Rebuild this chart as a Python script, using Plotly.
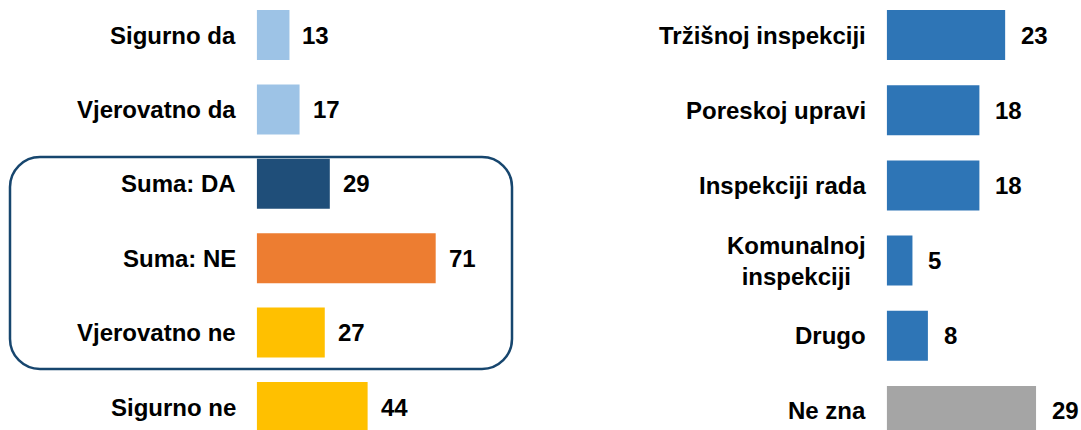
import plotly.graph_objects as go

# ---- data ----
left_categories = ["Sigurno da", "Vjerovatno da", "Suma: DA", "Suma: NE", "Vjerovatno ne", "Sigurno ne"]
left_values = [13, 17, 29, 71, 27, 44]
left_colors = ["#9DC3E6", "#9DC3E6", "#1F4E79", "#ED7D31", "#FFC000", "#FFC000"]

right_categories = ["Tržišnoj inspekciji", "Poreskoj upravi", "Inspekciji rada",
                    "Komunalnoj<br>inspekciji", "Drugo", "Ne zna"]
right_values = [23, 18, 18, 5, 8, 29]
right_colors = ["#2E75B6", "#2E75B6", "#2E75B6", "#2E75B6", "#2E75B6", "#A5A5A5"]

W, H = 1081, 430
FONT = "Liberation Sans, Arial, sans-serif"
FS = 24

fig = go.Figure()
fig.add_trace(go.Bar(y=left_categories, x=left_values, orientation="h",
                     marker=dict(color=left_colors, line=dict(width=0)),
                     width=0.672, xaxis="x", yaxis="y", hoverinfo="skip"))
fig.add_trace(go.Bar(y=right_categories, x=right_values, orientation="h",
                     marker=dict(color=right_colors, line=dict(width=0)),
                     width=0.665, xaxis="x2", yaxis="y2", hoverinfo="skip"))

annotations = []
for cat, val in zip(left_categories, left_values):
    annotations.append(dict(x=0, y=cat, xref="x", yref="y", text=cat, showarrow=False,
                            xanchor="right", yanchor="middle", xshift=-19, align="right",
                            font=dict(family=FONT, size=FS, color="#000000", weight="bold")))
    annotations.append(dict(x=val, y=cat, xref="x", yref="y", text=str(val), showarrow=False,
                            xanchor="left", yanchor="middle", xshift=11,
                            font=dict(family=FONT, size=FS, color="#000000", weight="bold")))
for cat, val in zip(right_categories, right_values):
    annotations.append(dict(x=0, y=cat, xref="x2", yref="y2", text=cat, showarrow=False,
                            xanchor="right", yanchor="middle", xshift=-19, align="center",
                            font=dict(family=FONT, size=FS, color="#000000", weight="bold")))
    annotations.append(dict(x=val, y=cat, xref="x2", yref="y2", text=str(val), showarrow=False,
                            xanchor="left", yanchor="middle", xshift=14,
                            font=dict(family=FONT, size=FS, color="#000000", weight="bold")))


def rr_path(x0, y0, x1, y1, r):
    k = 0.5523 * r

    def P(x, y):
        return f"{x / W:.5f},{1 - y / H:.5f}"

    return (f"M {P(x0 + r, y0)} L {P(x1 - r, y0)} "
            f"C {P(x1 - r + k, y0)} {P(x1, y0 + r - k)} {P(x1, y0 + r)} "
            f"L {P(x1, y1 - r)} "
            f"C {P(x1, y1 - r + k)} {P(x1 - r + k, y1)} {P(x1 - r, y1)} "
            f"L {P(x0 + r, y1)} "
            f"C {P(x0 + r - k, y1)} {P(x0, y1 - r + k)} {P(x0, y1 - r)} "
            f"L {P(x0, y0 + r)} "
            f"C {P(x0, y0 + r - k)} {P(x0 + r - k, y0)} {P(x0 + r, y0)} Z")


shapes = [dict(type="path", xref="paper", yref="paper",
               path=rr_path(10, 157, 512, 369, 30),
               line=dict(color="#17466E", width=2.5), fillcolor="rgba(0,0,0,0)", layer="above")]

axis_off = dict(showgrid=False, zeroline=False, showline=False, showticklabels=False, ticks="")

fig.update_layout(
    width=W, height=H,
    margin=dict(l=0, r=0, t=0, b=0),
    paper_bgcolor="white", plot_bgcolor="white",
    showlegend=False,
    xaxis=dict(domain=[256.7 / W, (256.7 + 252.1) / W], range=[0, 100], anchor="y", **axis_off),
    yaxis=dict(domain=[0, 1], type="category", categoryorder="array", categoryarray=left_categories,
               range=[5.309, -0.4704], anchor="x", **axis_off),
    xaxis2=dict(domain=[886.7 / W, (886.7 + 180.25) / W], range=[0, 35], anchor="y2", **axis_off),
    yaxis2=dict(domain=[0, 1], type="category", categoryorder="array", categoryarray=right_categories,
                range=[5.253, -0.4654], anchor="x2", **axis_off),
    annotations=annotations,
    shapes=shapes,
)

fig.write_html("out.html", config={"displayModeBar": False},
               post_script="document.body.style.margin='0';document.body.style.overflow='hidden';")
